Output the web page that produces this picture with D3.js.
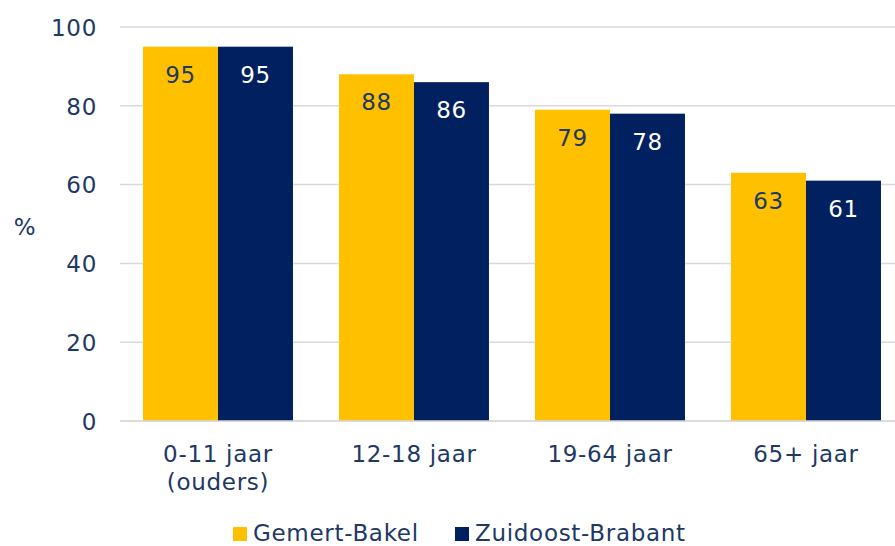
<!DOCTYPE html>
<html>
<head>
<meta charset="utf-8">
<script src="https://cdn.jsdelivr.net/npm/d3@7"></script>
<style>
  html, body { margin: 0; padding: 0; background: #fff; }
  svg { display: block; font-family: "DejaVu Sans", Verdana, sans-serif; }
  svg text { letter-spacing: 0.7px; }
</style>
</head>
<body>
<svg id="chart" width="895" height="546"></svg>
<script>
// Age groups and percentages per region
const categories = [["0-11 jaar", "(ouders)"], ["12-18 jaar"], ["19-64 jaar"], ["65+ jaar"]];
const seriesNames = ["Gemert-Bakel", "Zuidoost-Brabant"];
const gemertBakel = [95, 88, 79, 63];
const zuidoostBrabant = [95, 86, 78, 61];
const yTicks = [0, 20, 40, 60, 80, 100];

const colors = ["#FFC000", "#002060"];
const labelColors = ["#203864", "#FFFFFF"];
const textColor = "#203864";
const gridColor = "#D9D9D9";
const fontSize = 23;

const series = [gemertBakel, zuidoostBrabant];
const svg = d3.select("#chart");

const plot = { left: 120, right: 904, top: 27, bottom: 421 };

const x = d3.scaleBand()
  .domain(d3.range(categories.length))
  .range([plot.left, plot.right])
  .paddingInner(0.235)
  .paddingOuter(0.1175);

const xs = d3.scaleBand()
  .domain(d3.range(series.length))
  .range([0, x.bandwidth()]);

const y = d3.scaleLinear().domain([0, 100]).range([plot.bottom, plot.top]);

// Gridlines
svg.append("g")
  .selectAll("line")
  .data(yTicks)
  .join("line")
  .attr("x1", plot.left)
  .attr("x2", plot.right)
  .attr("y1", d => y(d))
  .attr("y2", d => y(d))
  .attr("stroke", gridColor)
  .attr("stroke-width", 1.5);

// Y axis labels
const yAxis = d3.axisLeft(y).tickValues(yTicks).tickSize(0).tickPadding(0);
const yg = svg.append("g")
  .attr("transform", `translate(97,0)`)
  .call(yAxis);
yg.select(".domain").remove();
yg.selectAll("text")
  .attr("fill", textColor)
  .attr("font-size", fontSize)
  .attr("font-family", "DejaVu Sans, Verdana, sans-serif")
  .attr("dy", "0.36em");

// Y axis title
svg.append("text")
  .attr("x", 25)
  .attr("y", 227)
  .attr("text-anchor", "middle")
  .attr("dy", "0.36em")
  .attr("fill", textColor)
  .attr("font-size", fontSize)
  .text("%");

// Bars
const groups = svg.append("g")
  .selectAll("g")
  .data(categories.map((c, i) => i))
  .join("g")
  .attr("transform", i => `translate(${x(i)},0)`);

groups.selectAll("rect")
  .data(i => series.map((s, k) => ({ k, v: s[i] })))
  .join("rect")
  .attr("x", d => xs(d.k))
  .attr("width", xs.bandwidth())
  .attr("y", d => y(d.v))
  .attr("height", d => y(0) - y(d.v))
  .attr("fill", d => colors[d.k]);

groups.selectAll("text.value")
  .data(i => series.map((s, k) => ({ k, v: s[i] })))
  .join("text")
  .attr("class", "value")
  .attr("x", d => xs(d.k) + xs.bandwidth() / 2)
  .attr("y", d => y(d.v) + 36)
  .attr("text-anchor", "middle")
  .attr("fill", d => labelColors[d.k])
  .attr("font-size", fontSize)
  .text(d => d.v);

// Baseline
svg.append("line")
  .attr("x1", plot.left)
  .attr("x2", plot.right)
  .attr("y1", y(0))
  .attr("y2", y(0))
  .attr("stroke", gridColor)
  .attr("stroke-width", 1.5);

// X axis labels
const xl = svg.append("g")
  .selectAll("text")
  .data(categories.map((c, i) => ({ c, i })))
  .join("text")
  .attr("x", d => x(d.i) + x.bandwidth() / 2)
  .attr("y", 462)
  .attr("text-anchor", "middle")
  .attr("fill", textColor)
  .attr("font-size", fontSize);
xl.selectAll("tspan")
  .data(d => d.c.map((line, j) => ({ line, j, cx: x(d.i) + x.bandwidth() / 2 })))
  .join("tspan")
  .attr("x", d => d.cx)
  .attr("dy", d => d.j === 0 ? 0 : 28)
  .text(d => d.line);

// Legend
const legendItems = [
  { name: seriesNames[0], color: colors[0], x: 233 },
  { name: seriesNames[1], color: colors[1], x: 455 }
];
const lg = svg.append("g")
  .selectAll("g")
  .data(legendItems)
  .join("g")
  .attr("transform", d => `translate(${d.x},527)`);
lg.append("rect")
  .attr("width", 14)
  .attr("height", 14)
  .attr("fill", d => d.color);
lg.append("text")
  .attr("x", 20)
  .attr("y", 14)
  .attr("fill", textColor)
  .attr("font-size", fontSize)
  .text(d => d.name);
</script>
</body>
</html>
